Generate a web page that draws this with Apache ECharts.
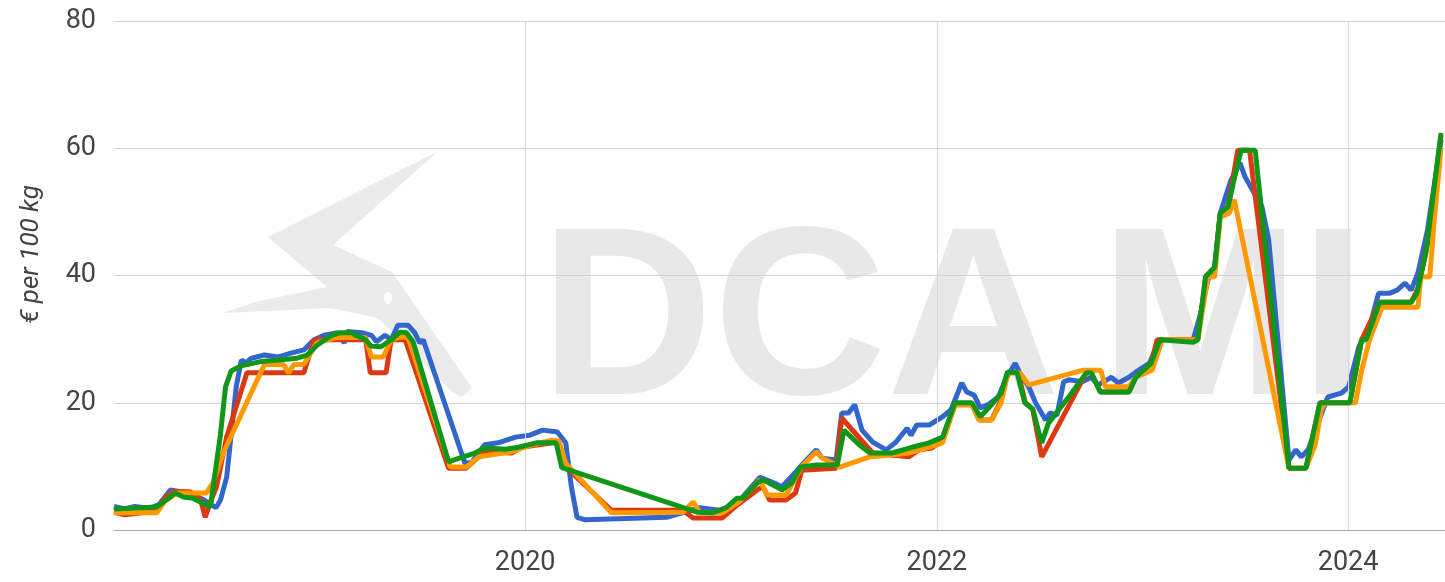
<!DOCTYPE html>
<html>
<head>
<meta charset="utf-8">
<title>Prezzi € per 100 kg</title>
<script src="https://cdn.jsdelivr.net/npm/echarts@6/dist/echarts.min.js"></script>
<style>
  html, body { margin: 0; padding: 0; background: #fff; }
  #chart { width: 1445px; height: 582px; }
</style>
</head>
<body>
<div id="chart"></div>
<script>
// valori: [data, € per 100 kg]
var serieBlu = [
  ['2018-01-01',3.7],['2018-01-20',3.3],['2018-02-07',3.7],['2018-03-05',3.4],['2018-03-22',4.0],
  ['2018-04-11',6.3],['2018-04-29',6.0],['2018-05-16',5.8],['2018-06-10',4.7],['2018-07-01',3.5],
  ['2018-07-09',4.7],['2018-07-20',8.3],['2018-08-06',22.5],['2018-08-15',26.7],['2018-08-24',26.3],
  ['2018-09-02',27],['2018-09-25',27.5],['2018-10-20',27.2],['2018-11-11',27.8],['2018-12-04',28.3],
  ['2018-12-22',29.9],['2019-01-09',30.6],['2019-02-02',31],['2019-02-14',29.4],['2019-02-19',31.2],
  ['2019-03-17',31],['2019-04-03',30.6],['2019-04-12',29.6],['2019-04-27',30.6],['2019-05-08',29.9],
  ['2019-05-20',32.2],['2019-06-07',32.2],['2019-06-19',31],['2019-06-28',29.4],['2019-07-04',29.9],
  ['2019-09-16',10.5],['2019-09-28',10.6],['2019-10-21',13.4],['2019-11-14',13.7],['2019-12-15',14.6],
  ['2020-01-09',14.9],['2020-02-01',15.7],['2020-02-27',15.4],['2020-03-13',13.7],['2020-03-23',6.8],
  ['2020-04-02',2.0],['2020-04-17',1.6],['2020-09-08',2.0],['2020-11-06',3.5],['2020-12-11',3.1],
  ['2021-01-04',3.9],['2021-01-16',4.7],['2021-02-21',8.3],['2021-03-15',7.5],['2021-04-01',6.8],
  ['2021-04-25',9.1],['2021-05-06',10.2],['2021-06-01',12.6],['2021-06-11',11.3],['2021-07-06',11],
  ['2021-07-16',18.4],['2021-07-28',18.4],['2021-08-08',19.7],['2021-08-21',15.7],['2021-09-09',13.8],
  ['2021-10-03',12.6],['2021-10-20',13.8],['2021-11-09',16],['2021-11-16',14.9],['2021-11-26',16.5],
  ['2021-12-18',16.5],['2022-01-11',17.8],['2022-01-26',18.9],['2022-02-14',23.1],['2022-02-23',21.7],
  ['2022-03-08',21.2],['2022-03-19',19.2],['2022-04-02',19.7],['2022-04-20',20.9],['2022-05-04',23.9],
  ['2022-05-20',26.2],['2022-05-28',24.7],['2022-06-13',22.5],['2022-06-25',20],['2022-07-13',17.3],
  ['2022-07-21',18.4],['2022-08-02',18.0],['2022-08-14',23.3],['2022-08-23',23.6],['2022-09-16',23.3],
  ['2022-10-02',24],['2022-10-14',22.8],['2022-11-07',24],['2022-11-19',23.1],['2022-12-08',24],
  ['2022-12-20',24.8],['2023-01-13',26.2],['2023-02-01',29.9],['2023-04-01',29.9],['2023-04-14',34],
  ['2023-04-27',39.3],['2023-05-09',41.3],['2023-05-19',49.8],['2023-06-07',55],['2023-06-23',57.7],
  ['2023-07-02',55.5],['2023-08-01',50.8],['2023-08-13',45.6],['2023-09-18',11],['2023-09-30',12.6],
  ['2023-10-10',11.5],['2023-10-22',12.6],['2023-11-09',17],['2023-11-26',20.9],['2023-12-20',21.5],
  ['2024-01-02',22.5],['2024-01-20',28.8],['2024-02-08',31.9],['2024-02-24',37.2],['2024-03-14',37.2],
  ['2024-03-28',37.7],['2024-04-11',38.8],['2024-04-22',37.7],['2024-05-04',40.4],['2024-05-21',47.2],
  ['2024-06-14',61.3]
];

var serieRossa = [
  ['2018-01-01',2.8],['2018-01-20',2.4],['2018-03-18',3.0],['2018-04-01',5.0],['2018-04-16',6.0],
  ['2018-05-16',6.0],['2018-06-04',4.7],['2018-06-12',2.0],['2018-06-21',4.4],['2018-07-02',6.8],
  ['2018-07-20',14.6],['2018-08-25',24.7],['2018-12-04',24.7],['2018-12-22',29.9],['2019-03-24',29.9],
  ['2019-04-01',24.7],['2019-04-29',24.7],['2019-05-08',29.9],['2019-06-02',29.9],['2019-08-18',9.7],
  ['2019-09-18',9.7],['2019-10-10',11.5],['2019-10-21',12.3],['2019-12-08',12.1],['2019-12-25',13],
  ['2020-02-25',13.8],['2020-03-13',9.9],['2020-06-02',3.1],['2020-10-07',3.1],['2020-10-25',1.9],
  ['2020-12-16',1.9],['2021-01-11',3.9],['2021-02-16',6.3],['2021-02-26',6.8],['2021-03-10',4.7],
  ['2021-04-08',4.7],['2021-04-25',5.8],['2021-05-06',9.4],['2021-07-06',9.7],['2021-07-16',17.6],
  ['2021-09-09',12.1],['2021-11-12',11.5],['2021-11-30',12.6],['2021-12-23',12.9],['2022-01-11',14.1],
  ['2022-02-02',19.7],['2022-03-04',19.7],['2022-03-17',17.3],['2022-04-08',17.3],['2022-04-25',20.4],
  ['2022-05-07',24.7],['2022-05-25',24.7],['2022-06-07',20],['2022-06-20',19],['2022-07-06',11.5],
  ['2022-09-23',24.7],['2022-10-02',24.7],['2022-10-18',21.7],['2022-12-08',21.7],['2022-12-20',24],
  ['2023-01-16',26.2],['2023-01-27',29.9],['2023-04-09',29.9],['2023-04-23',39.8],['2023-05-09',41.3],
  ['2023-05-19',49.8],['2023-06-02',50.8],['2023-06-19',59.7],['2023-07-10',59.7],['2023-09-18',9.7],
  ['2023-10-18',9.7],['2023-11-12',20],['2024-01-04',20],['2024-01-25',29.9],['2024-02-26',35.8],
  ['2024-04-22',35.8],['2024-05-04',38],['2024-05-21',45],['2024-06-14',62]
];

var serieArancio = [
  ['2018-01-01',2.7],['2018-03-18',2.7],['2018-04-01',4.5],['2018-04-22',5.8],['2018-06-14',5.8],
  ['2018-06-26',7.5],['2018-07-14',12.1],['2018-09-25',26],['2018-10-29',26],['2018-11-07',24.7],
  ['2018-11-16',26],['2018-12-04',26],['2018-12-27',29.4],['2019-02-02',30.3],['2019-03-24',30.2],
  ['2019-04-03',27.2],['2019-04-24',27.2],['2019-05-08',29.9],['2019-05-24',30.3],['2019-06-07',30.3],
  ['2019-08-21',9.9],['2019-09-19',9.9],['2019-10-10',11.5],['2019-12-08',12.3],['2020-01-14',13.4],
  ['2020-02-18',14.1],['2020-03-01',14],['2020-03-13',10.5],['2020-06-02',2.7],['2020-10-07',2.8],
  ['2020-10-25',4.4],['2020-11-06',2.8],['2020-12-16',2.7],['2021-01-16',4.5],['2021-02-21',7.9],
  ['2021-03-05',5.5],['2021-04-08',5.5],['2021-05-06',10],['2021-06-01',12.3],['2021-06-11',11.3],
  ['2021-07-06',10.2],['2021-07-12',9.9],['2021-09-04',11.5],['2021-10-13',11.8],['2021-11-12',12.1],
  ['2021-12-18',13],['2022-01-11',13.7],['2022-02-02',19.7],['2022-03-04',19.7],['2022-03-17',17.3],
  ['2022-04-08',17.3],['2022-04-25',20],['2022-05-07',24.7],['2022-05-28',24.7],['2022-06-13',22.8],
  ['2022-09-16',25.1],['2022-10-19',25.1],['2022-10-27',22.5],['2022-12-08',22.5],['2022-12-20',24],
  ['2023-01-18',25.1],['2023-02-05',29.9],['2023-04-09',29.9],['2023-04-27',39.8],['2023-05-09',39.8],
  ['2023-05-19',49.2],['2023-06-04',49.8],['2023-06-13',51.9],['2023-09-18',9.7],['2023-10-18',9.7],
  ['2023-11-04',13.5],['2023-11-14',18.9],['2023-11-21',20],['2024-01-14',20],['2024-01-25',25.1],
  ['2024-02-08',29.9],['2024-03-01',35],['2024-05-04',35],['2024-05-09',39.8],['2024-05-25',39.8],
  ['2024-06-03',49.8],['2024-06-14',60]
];

var serieVerde = [
  ['2018-01-01',3.3],['2018-03-18',3.6],['2018-04-20',5.8],['2018-05-04',5.2],['2018-05-21',5.0],
  ['2018-06-21',3.6],['2018-07-09',15],['2018-07-18',22.5],['2018-07-28',25],['2018-08-15',25.8],
  ['2018-09-20',26.5],['2018-11-22',27],['2018-12-10',27.5],['2018-12-27',29],['2019-01-22',30.6],
  ['2019-02-06',31],['2019-02-27',31],['2019-03-06',30.6],['2019-03-24',29.9],['2019-04-02',28.9],
  ['2019-04-20',28.8],['2019-05-08',29.9],['2019-05-24',31.1],['2019-06-04',31],['2019-06-16',29.6],
  ['2019-08-18',10.7],['2019-09-06',11.3],['2019-10-04',12.1],['2019-10-21',12.9],['2019-11-27',12.7],
  ['2019-12-20',13],['2020-01-21',13.7],['2020-02-25',13.7],['2020-03-06',9.8],['2020-11-01',2.8],
  ['2020-11-28',2.7],['2020-12-23',3.5],['2021-01-11',5],['2021-01-21',5],['2021-02-16',7.4],
  ['2021-02-26',7.9],['2021-04-01',6.3],['2021-04-18',7.4],['2021-05-04',9.9],['2021-06-01',10.2],
  ['2021-07-08',10.2],['2021-07-20',15.7],['2021-08-16',13.4],['2021-09-04',12.1],['2021-10-13',12.1],
  ['2021-11-18',13],['2021-12-18',13.7],['2022-01-11',14.6],['2022-02-02',20],['2022-03-04',20],
  ['2022-03-19',17.8],['2022-04-11',20],['2022-04-25',21.5],['2022-05-06',24.8],['2022-05-23',24.8],
  ['2022-06-06',20],['2022-06-20',19],['2022-07-06',13.7],['2022-07-18',16.8],['2022-08-28',21.5],
  ['2022-09-23',24.7],['2022-10-02',24.7],['2022-10-18',21.7],['2022-12-08',21.7],['2022-12-20',24],
  ['2023-01-16',26.2],['2023-02-01',29.9],['2023-04-01',29.5],['2023-04-09',29.9],['2023-04-23',39.8],
  ['2023-05-09',41.3],['2023-05-19',49.8],['2023-06-02',50.8],['2023-06-11',54.5],['2023-06-25',59.7],
  ['2023-07-20',59.7],['2023-09-18',9.7],['2023-10-18',9.7],['2023-11-12',20],['2024-01-04',20],
  ['2024-01-25',29.9],['2024-02-02',29.9],['2024-02-26',35.8],['2024-04-22',35.8],['2024-05-02',37.2],
  ['2024-05-18',43.5],['2024-06-14',62.4]
];

// anni con griglia verticale ed etichetta
var anniEtichetta = ['2020', '2022', '2024'];
var tickY = [0, 20, 40, 60, 80];

var fontAssi = 'Roboto';
var coloreTesto = '#444';

var myChart = echarts.init(document.getElementById('chart'));

function linea(nome, colore, dati, larghezza, z) {
  return {
    name: nome,
    type: 'line',
    data: dati,
    showSymbol: false,
    symbol: 'none',
    z: z,
    lineStyle: { color: colore, width: larghezza },
    itemStyle: { color: colore }
  };
}

var option = {
  animation: false,
  backgroundColor: '#fff',
  grid: { left: 114, right: 0, top: 21, bottom: 52 },
  // logo e scritta in filigrana
  graphic: [
    {
      type: 'polygon', z: -10, silent: true,
      shape: { points: [[437,152],[333,245],[392,272],[472,388],[462,397],[452,392],[378,318],
                        [330,308],[290,310],[223,313],[255,302],[327,287],[268,237]] },
      style: { fill: '#ebebeb' }
    },
    {
      type: 'ellipse', z: -9, silent: true,
      shape: { cx: 388, cy: 298, rx: 4, ry: 6 },
      style: { fill: '#fff' }
    },
    {
      type: 'text', z: -10, silent: true, left: 540, top: 208,
      style: { text: 'DCA', fill: '#e8e8e8', font: 'bold 240px "Liberation Sans", Arial, sans-serif' }
    },
    {
      type: 'text', z: -10, silent: true, left: 1100, top: 208,
      style: { text: 'MI', fill: '#e8e8e8', font: 'bold 240px "Liberation Sans", Arial, sans-serif' }
    }
  ],
  xAxis: {
    type: 'time',
    min: '2018-01-01',
    max: '2024-06-21',
    axisLine: { show: true, lineStyle: { color: '#aaa', width: 1 } },
    axisTick: { show: false },
    axisLabel: { show: false },
    splitLine: { show: false }
  },
  yAxis: {
    type: 'value',
    min: tickY[0],
    max: tickY[tickY.length - 1],
    interval: 20,
    name: '€ per 100 kg',
    nameLocation: 'middle',
    nameGap: 70,
    nameTextStyle: {
      fontFamily: fontAssi, fontSize: 26, fontStyle: 'italic', color: coloreTesto,
      padding: [0, 0, 0, 42]
    },
    axisLine: { show: false },
    axisTick: { show: false },
    axisLabel: { fontFamily: fontAssi, fontSize: 27, color: coloreTesto, margin: 18 },
    splitLine: { lineStyle: { color: '#d4d4d4', width: 1 } }
  },
  series: [
    // serie vuota solo per le linee verticali degli anni
    {
      type: 'line',
      data: [],
      z: 1,
      silent: true,
      markLine: {
        silent: true,
        symbol: 'none',
        animation: false,
        lineStyle: { color: '#d9d9d9', type: 'solid', width: 1 },
        label: {
          position: 'start',
          distance: 20,
          formatter: '{b}',
          fontFamily: fontAssi,
          fontSize: 27,
          color: coloreTesto
        },
        emphasis: { disabled: true },
        data: anniEtichetta.map(function (a) { return { name: a, xAxis: a + '-01-01' }; })
      }
    },
    linea('Blu', '#3366cc', serieBlu, 5, 3),
    linea('Rosso', '#dc3912', serieRossa, 5, 4),
    linea('Arancio', '#ff9900', serieArancio, 5, 5),
    linea('Verde', '#109618', serieVerde, 5, 6)
  ]
};

myChart.setOption(option);
</script>
</body>
</html>
